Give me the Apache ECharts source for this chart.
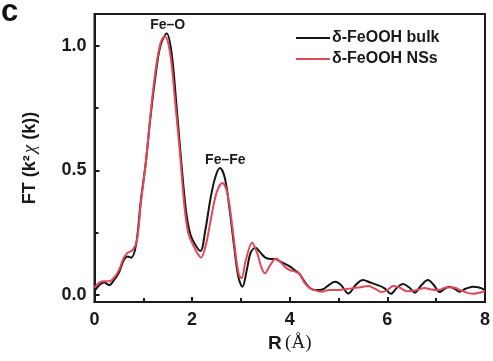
<!DOCTYPE html>
<html><head><meta charset="utf-8">
<script src="https://cdn.jsdelivr.net/npm/echarts@6/dist/echarts.min.js"></script>
<style>html,body{margin:0;padding:0;background:#fff}#c{width:493px;height:361px}</style>
</head><body><div id="c"></div>
<script>
const seriesNames = ['δ-FeOOH bulk', 'δ-FeOOH NSs'];
const xTicks = [0, 2, 4, 6, 8];
const yTicks = [0, 0.5, 1.0];
const yMinorTicks = [0.25, 0.75];
const bulkR = [0,0.1,0.2,0.3,0.4,0.5,0.6,0.68,0.75,0.85,0.95,1.05,1.15,1.25,1.35,1.48,1.58,1.68,1.78,1.88,1.97,2.07,2.17,2.27,2.37,2.47,2.57,2.67,2.77,2.87,2.95,3.03,3.12,3.2,3.3,3.4,3.5,3.6,3.7,3.8,3.9,4.0,4.1,4.2,4.3,4.4,4.5,4.6,4.7,4.8,4.93,5.05,5.2,5.35,5.5,5.65,5.8,5.95,6.07,6.2,6.32,6.45,6.56,6.7,6.83,6.95,7.07,7.17,7.27,7.38,7.48,7.6,7.75,7.88,8.0];
const bulkFT = [0.015,0.04,0.05,0.04,0.06,0.09,0.14,0.155,0.15,0.2,0.38,0.53,0.72,0.88,1.0,1.05,0.97,0.76,0.53,0.33,0.24,0.2,0.177,0.26,0.38,0.47,0.51,0.47,0.34,0.18,0.07,0.033,0.1,0.17,0.19,0.17,0.15,0.145,0.145,0.135,0.125,0.115,0.1,0.085,0.055,0.03,0.02,0.02,0.025,0.04,0.053,0.04,0.006,0.04,0.06,0.05,0.04,0.026,0.005,0.03,0.044,0.03,0.01,0.04,0.06,0.04,0.012,0.025,0.033,0.025,0.013,0.025,0.033,0.03,0.02];
const nsR = [0,0.1,0.2,0.3,0.4,0.5,0.6,0.68,0.78,0.87,0.95,1.05,1.15,1.25,1.35,1.44,1.55,1.65,1.75,1.84,1.92,2.02,2.1,2.18,2.28,2.38,2.5,2.62,2.72,2.82,2.9,2.96,3.01,3.1,3.23,3.33,3.42,3.49,3.6,3.72,3.82,3.92,4.0,4.1,4.2,4.3,4.4,4.5,4.66,4.8,5.0,5.2,5.4,5.61,5.75,5.88,6.0,6.12,6.25,6.4,6.6,6.76,6.9,7.05,7.2,7.35,7.55,7.75,7.9,8.0];
const nsFT = [0.03,0.05,0.055,0.055,0.07,0.1,0.15,0.17,0.18,0.22,0.37,0.53,0.73,0.9,1.01,1.04,0.97,0.78,0.57,0.36,0.25,0.2,0.17,0.15,0.2,0.3,0.41,0.45,0.41,0.28,0.15,0.08,0.067,0.14,0.21,0.17,0.11,0.087,0.12,0.147,0.13,0.11,0.1,0.095,0.085,0.05,0.03,0.02,0.013,0.02,0.02,0.025,0.03,0.036,0.025,0.012,0.02,0.036,0.03,0.015,0.02,0.028,0.022,0.02,0.03,0.03,0.015,0.005,0.01,0.015];
const peakLabels = [{name: 'Fe–O', R: 1.5, y: 1.085}, {name: 'Fe–Fe', R: 2.68, y: 0.54}];

const zip = (a, b) => a.map((v, i) => [v, b[i]]);
const F = 'Arial, "Liberation Sans", Helvetica, sans-serif';
const chart = echarts.init(document.getElementById('c'), null, {renderer: 'canvas'});
const yMin = -0.028, yMax = 1.128;
chart.setOption({
  animation: false,
  grid: {left: 94.5, right: 6, top: 14, bottom: 59, show: true, borderColor: '#1a1a1a', borderWidth: 2, backgroundColor: 'transparent'},
  legend: {
    left: 291, top: 25, orient: 'vertical', itemGap: 5, itemWidth: 34, itemHeight: 16,
    icon: 'path://M0,7 L34,7 L34,9 L0,9 Z',
    textStyle: {fontFamily: F, fontWeight: 'bold', fontSize: 16, color: '#1a1a1a', padding: [0, 0, 0, -3]},
    data: seriesNames
  },
  xAxis: {
    type: 'value', min: 0, max: 8, interval: 2,
    name: '{b|R} {s|(Å)}', nameLocation: 'middle', nameGap: 32,
    nameTextStyle: {rich: {b: {fontFamily: F, fontWeight: 'bold', fontSize: 19, color: '#1a1a1a'}, s: {fontFamily: '"Liberation Serif", "Times New Roman", serif', fontSize: 19, color: '#1a1a1a'}}},
    axisLine: {onZero: false, lineStyle: {color: '#1a1a1a', width: 2}},
    axisTick: {inside: true, length: 5, lineStyle: {width: 2, color: '#1a1a1a'}},
    minorTick: {show: true, splitNumber: 2, length: 4, lineStyle: {width: 2, color: '#1a1a1a'}},
    axisLabel: {fontFamily: F, fontWeight: 'bold', fontSize: 18, color: '#1a1a1a', margin: 9, formatter: v => xTicks.includes(v) ? String(v) : ''},
    splitLine: {show: false}
  },
  yAxis: [{
    type: 'value', min: yMin, max: yMax,
    name: '{b|FT (k²}{c|χ}{b| (k))}', nameLocation: 'middle', nameGap: 55, nameRotate: 90,
    nameTextStyle: {rich: {
      b: {fontFamily: F, fontWeight: 'bold', fontSize: 18, color: '#1a1a1a'},
      c: {fontFamily: '"Liberation Serif", serif', fontStyle: 'italic', fontSize: 19, color: '#1a1a1a', padding: [0, 0, 0, 2]}
    }},
    axisLine: {onZero: false, lineStyle: {color: '#1a1a1a', width: 2}},
    axisTick: {inside: true, length: 5, lineStyle: {width: 2, color: '#1a1a1a'}, customValues: yTicks},
    axisLabel: {fontFamily: F, fontWeight: 'bold', fontSize: 18, color: '#1a1a1a', margin: 8, customValues: yTicks, formatter: v => v.toFixed(1)},
    splitLine: {show: false}
  }, {
    type: 'value', min: yMin, max: yMax, position: 'left',
    axisLine: {show: false, onZero: false},
    axisTick: {inside: true, length: 4, lineStyle: {width: 2, color: '#1a1a1a'}, customValues: yMinorTicks},
    axisLabel: {show: false, customValues: yMinorTicks},
    splitLine: {show: false}
  }],
  series: [{
    name: seriesNames[0], type: 'line', data: zip(bulkR, bulkFT), smooth: 0.35, symbol: 'none',
    lineStyle: {color: '#151515', width: 2}, itemStyle: {color: '#151515'}, z: 2,
    markPoint: {
      symbol: 'circle', symbolSize: 0,
      label: {show: true, formatter: p => p.name, fontFamily: F, fontWeight: 'bold', fontSize: 14, color: '#1a1a1a', position: 'inside'},
      data: peakLabels.map(p => ({name: p.name, coord: [p.R, p.y]}))
    }
  }, {
    name: seriesNames[1], type: 'line', data: zip(nsR, nsFT), smooth: 0.35, symbol: 'none',
    lineStyle: {color: '#e4475a', width: 2}, itemStyle: {color: '#e4475a'}, z: 3
  }],
  graphic: [{type: 'text', left: 1, top: -3, style: {text: 'c', fontFamily: F, fontWeight: 'bold', fontSize: 31, fill: '#111'}}]
});
</script></body></html>
